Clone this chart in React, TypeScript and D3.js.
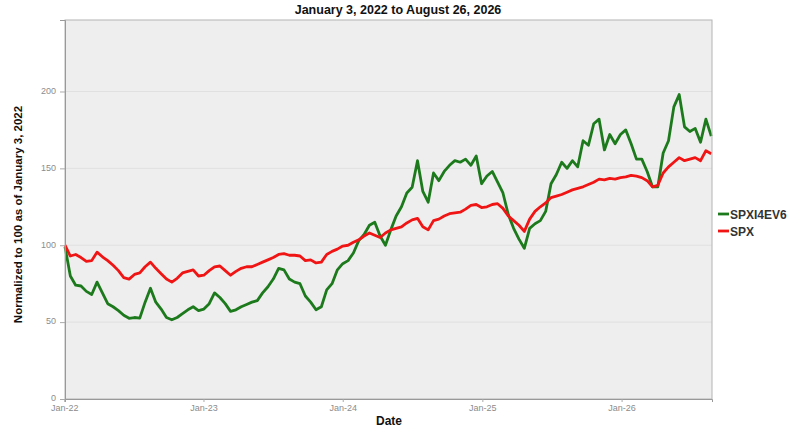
import React, { useEffect, useRef } from 'react';
import * as d3 from 'd3';

const TITLE = 'January 3, 2022 to August 26, 2026';
const Y_LABEL = 'Normalized to 100 as of January 3, 2022';
const X_LABEL = 'Date';

const START = new Date(2022, 0, 3);
const END = new Date(2026, 7, 26);
const STEP_DAYS = 14;

// two-weekly closes, normalized
const spxi4ev6 = [
  99, 80, 74, 73.5, 70, 68, 76, 69, 62, 60, 57.5, 54.5, 52.5, 53, 52.6, 63, 72, 63, 58.5, 53,
  51.5, 53, 55.5, 58, 60, 57.5, 58.5, 62, 69, 66, 62, 57, 58, 60, 61.5, 63, 64, 69, 73, 78,
  85, 84, 78, 76, 75, 67, 63, 58, 60, 71, 75, 84, 88, 90, 95, 103, 107, 113, 115, 106,
  100, 110, 119, 125, 134, 137.7, 155, 135, 128, 147, 142, 148, 152, 155, 154, 156, 152, 158, 140, 145,
  148, 141, 134, 120, 111, 104, 98, 111, 114, 116, 122, 140, 146, 154, 150, 155, 151, 168, 165, 179,
  182, 162, 172, 166, 172, 175, 166, 156, 156, 148, 138, 138, 160, 168, 190, 198, 177, 174, 176, 167,
  182, 171,
];

const spx = [
  100, 93, 94, 92, 89.5, 90, 95.5, 92.5, 90, 87, 83.5, 79, 78, 81, 82, 86, 89, 85, 81.5, 78,
  76, 78.5, 82, 83, 84, 80, 80.5, 83.5, 86, 86.5, 83.5, 80.5, 83, 85, 86, 86, 87.5, 89, 90.5, 92,
  94, 94.5, 93.5, 93.5, 93, 90, 90.5, 88.5, 89, 94, 96, 97.5, 99.5, 100, 102, 103.5, 106, 108, 106.5, 105,
  108, 110, 111, 112, 114.5, 116.5, 117.5, 112, 110, 116, 117, 119, 120.5, 121, 121.5, 123.5, 126, 126.5, 124.5, 125,
  126.5, 127, 124, 119, 116, 113, 109, 117, 122, 125, 127.5, 131, 132, 133, 134.5, 136, 137, 138, 139.5, 141,
  143, 142.5, 143.5, 143, 144, 144.5, 145.5, 145, 144, 142, 138, 139, 147, 151, 154, 157, 155, 156, 157, 155,
  161.5, 159.5,
];

const dates = spx.map((_, i) => d3.timeDay.offset(START, i * STEP_DAYS));

const series = [
  { name: 'SPXI4EV6', values: spxi4ev6, color: '#1c7a1c' },
  { name: 'SPX', values: spx, color: '#f01414' },
];

const Y_TICKS = [0, 50, 100, 150, 200];
const X_TICKS = [2022, 2023, 2024, 2025, 2026].map((y) => new Date(y, 0, 1));

const W = 790;
const H = 438;
const M = { left: 65, right: 78, top: 20, bottom: 39 };
const FONT = 'Arial, "Liberation Sans", sans-serif';

export default function App() {
  const svgRef = useRef<SVGSVGElement | null>(null);

  useEffect(() => {
    if (!svgRef.current) return;
    const svg = d3.select(svgRef.current);
    svg.selectAll('*').remove();

    const iw = W - M.left - M.right;
    const ih = H - M.top - M.bottom;

    const x = d3.scaleTime().domain([START, END]).range([M.left, M.left + iw]);
    const y = d3.scaleLinear().domain([0, 246.5]).range([M.top + ih, M.top]);

    // Plot area
    svg
      .append('rect')
      .attr('x', M.left)
      .attr('y', M.top)
      .attr('width', iw)
      .attr('height', ih)
      .attr('fill', '#eeeeee');

    // Grid
    svg
      .append('g')
      .selectAll('line')
      .data(Y_TICKS.filter((t) => t > 0))
      .join('line')
      .attr('x1', M.left)
      .attr('x2', M.left + iw)
      .attr('y1', (d) => y(d))
      .attr('y2', (d) => y(d))
      .attr('stroke', '#e0e0e0')
      .attr('stroke-width', 1);

    // Lines
    const line = d3
      .line<number>()
      .x((_, i) => x(dates[i]))
      .y((d) => y(d));

    series.forEach((s) => {
      svg
        .append('path')
        .datum(s.values)
        .attr('fill', 'none')
        .attr('stroke', s.color)
        .attr('stroke-width', 2.8)
        .attr('stroke-linejoin', 'round')
        .attr('d', line);
    });

    // Frame
    svg
      .append('rect')
      .attr('x', M.left)
      .attr('y', M.top)
      .attr('width', iw)
      .attr('height', ih)
      .attr('fill', 'none')
      .attr('stroke', '#b4b4b4')
      .attr('stroke-width', 1);

    // Axes
    const yAxis = svg
      .append('g')
      .attr('transform', `translate(${M.left},0)`)
      .call(d3.axisLeft(y).tickValues(Y_TICKS).tickSize(5).tickPadding(4));
    const xAxis = svg
      .append('g')
      .attr('transform', `translate(0,${M.top + ih})`)
      .call(
        d3
          .axisBottom(x)
          .tickValues(X_TICKS)
          .tickSize(3)
          .tickPadding(3)
          .tickFormat((d) => d3.timeFormat('%b-%y')(d as Date))
      );
    [yAxis, xAxis].forEach((g) => {
      g.select('.domain').attr('stroke', '#999999');
      g.selectAll('.tick line').attr('stroke', '#aaaaaa');
      g.selectAll('.tick text')
        .attr('fill', '#8c8c8c')
        .style('font-family', FONT)
        .style('font-size', '9px');
    });
    yAxis.selectAll('.tick text').attr('dy', '0.2em');

    // Title and labels
    svg
      .append('text')
      .attr('x', 398)
      .attr('y', 14)
      .attr('text-anchor', 'middle')
      .style('font-family', FONT)
      .style('font-weight', 'bold')
      .style('font-size', '12.5px')
      .attr('fill', '#111')
      .text(TITLE);

    svg
      .append('text')
      .attr('transform', `translate(18,${M.top + ih / 2 + 5}) rotate(-90)`)
      .attr('text-anchor', 'middle')
      .attr('dy', '0.35em')
      .style('font-family', FONT)
      .style('font-weight', 'bold')
      .style('font-size', '11.5px')
      .attr('fill', '#111')
      .text(Y_LABEL);

    svg
      .append('text')
      .attr('x', 389)
      .attr('y', 425)
      .attr('text-anchor', 'middle')
      .style('font-family', FONT)
      .style('font-weight', 'bold')
      .style('font-size', '12px')
      .attr('fill', '#111')
      .text(X_LABEL);

    // Legend
    const legend = svg
      .append('g')
      .selectAll('g')
      .data(series)
      .join('g')
      .attr('transform', (_, i) => `translate(718,${214 + i * 17})`);
    legend
      .append('line')
      .attr('x1', 0)
      .attr('x2', 11)
      .attr('stroke', (d) => d.color)
      .attr('stroke-width', 2.8);
    legend
      .append('text')
      .attr('x', 12)
      .attr('dy', '0.38em')
      .style('font-family', FONT)
      .style('font-weight', 'bold')
      .style('font-size', '12px')
      .attr('fill', '#333')
      .text((d) => d.name);
  }, []);

  return (
    <svg
      ref={svgRef}
      width={W}
      height={H}
      style={{ position: 'absolute', top: 0, left: 0, display: 'block', background: '#fff' }}
    />
  );
}
